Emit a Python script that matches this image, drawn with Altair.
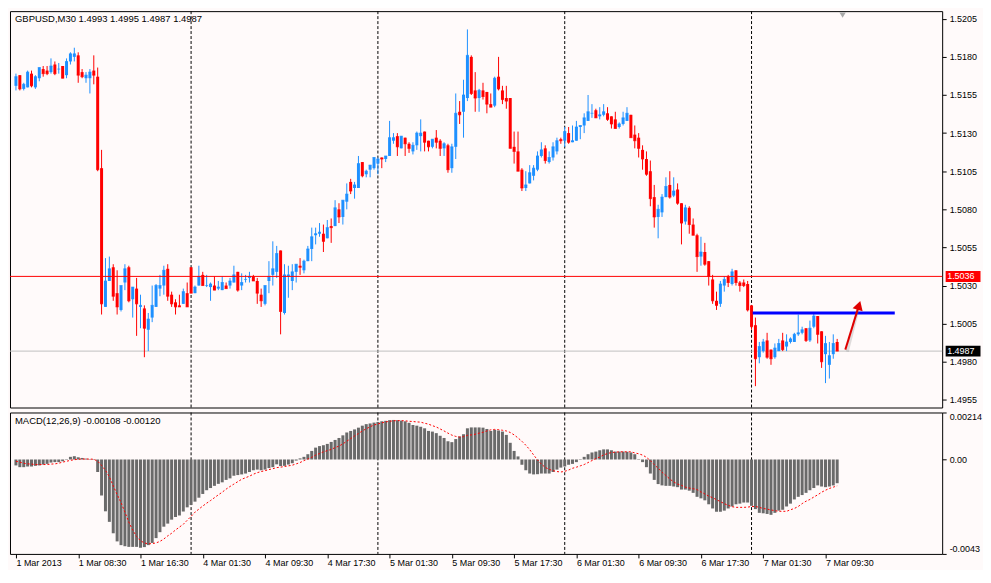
import json
import altair as alt
import pandas as pd

# ---------------- data ----------------
TITLE = "GBPUSD,M30  1.4993 1.4995 1.4987 1.4987"
MACD_TITLE = "MACD(12,26,9) -0.00108 -0.00120"

OPEN = [
 1.5161,1.5168,1.5159,1.5160,1.5169,1.5160,1.5166,1.5172,1.5171,1.5170,
 1.5175,1.5172,1.5174,1.5168,1.5177,1.5180,1.5181,1.5170,1.5166,1.5166,
 1.5171,1.5167,1.5107,1.5016,1.5033,1.5042,1.5025,1.5014,1.5032,1.5042,
 1.5021,1.5028,1.5016,1.5015,1.5001,1.5009,1.5016,1.5028,1.5030,1.5041,
 1.5024,1.5019,1.5017,1.5018,1.5025,1.5042,1.5025,1.5030,1.5037,1.5030,
 1.5029,1.5030,1.5028,1.5027,1.5030,1.5030,1.5032,1.5039,1.5030,1.5034,
 1.5035,1.5036,1.5033,1.5024,1.5018,1.5033,1.5037,1.5039,1.5053,1.5012,
 1.5036,1.5033,1.5039,1.5043,1.5040,1.5046,1.5054,1.5063,1.5064,1.5064,
 1.5061,1.5069,1.5069,1.5080,1.5075,1.5085,1.5098,1.5094,1.5094,1.5111,
 1.5103,1.5106,1.5107,1.5110,1.5114,1.5113,1.5115,1.5125,1.5128,1.5120,
 1.5127,1.5123,1.5118,1.5122,1.5128,1.5131,1.5125,1.5121,1.5127,1.5125,
 1.5120,1.5122,1.5107,1.5121,1.5144,1.5144,1.5153,1.5180,1.5158,1.5153,
 1.5158,1.5157,1.5149,1.5148,1.5167,1.5158,1.5153,1.5153,1.5121,1.5118,
 1.5106,1.5094,1.5097,1.5102,1.5106,1.5115,1.5120,1.5111,1.5114,1.5118,
 1.5126,1.5125,1.5130,1.5124,1.5125,1.5134,1.5135,1.5138,1.5143,1.5145,
 1.5141,1.5142,1.5143,1.5141,1.5139,1.5134,1.5136,1.5138,1.5142,1.5129,
 1.5127,1.5119,1.5113,1.5105,1.5088,1.5075,1.5078,1.5088,1.5096,1.5089,
 1.5093,1.5084,1.5072,1.5081,1.5070,1.5063,1.5049,1.5052,1.5046,1.5034,
 1.5020,1.5018,1.5030,1.5036,1.5031,1.5040,1.5032,1.5032,1.5031,1.5017,
 1.5004,1.4983,1.4987,1.4994,1.4988,1.4983,1.4987,1.4994,1.4990,1.4993,
 1.4993,1.4998,1.4999,1.5002,1.4994,1.5003,1.5010,1.5000,1.4985,1.4978,
 1.4985,1.4993]

HIGH = [
 1.5169,1.5168,1.5163,1.5171,1.5171,1.5168,1.5173,1.5174,1.5174,1.5179,
 1.5177,1.5176,1.5174,1.5179,1.5183,1.5186,1.5183,1.5172,1.5170,1.5172,
 1.5181,1.5173,1.5119,1.5048,1.5049,1.5044,1.5040,1.5030,1.5044,1.5043,
 1.5029,1.5035,1.5024,1.5017,1.5012,1.5030,1.5031,1.5037,1.5043,1.5044,
 1.5026,1.5021,1.5024,1.5028,1.5032,1.5042,1.5030,1.5043,1.5039,1.5037,
 1.5032,1.5036,1.5033,1.5036,1.5032,1.5035,1.5043,1.5039,1.5038,1.5037,
 1.5039,1.5037,1.5035,1.5028,1.5030,1.5046,1.5059,1.5056,1.5053,1.5044,
 1.5043,1.5044,1.5044,1.5048,1.5047,1.5056,1.5068,1.5068,1.5071,1.5070,
 1.5073,1.5074,1.5086,1.5084,1.5086,1.5097,1.5100,1.5098,1.5115,1.5111,
 1.5106,1.5109,1.5114,1.5114,1.5114,1.5115,1.5138,1.5130,1.5130,1.5128,
 1.5127,1.5124,1.5124,1.5131,1.5139,1.5131,1.5125,1.5126,1.5132,1.5126,
 1.5124,1.5123,1.5123,1.5156,1.5151,1.5165,1.5198,1.5181,1.5170,1.5159,
 1.5163,1.5157,1.5156,1.5167,1.5180,1.5161,1.5161,1.5153,1.5131,1.5131,
 1.5107,1.5105,1.5109,1.5109,1.5118,1.5124,1.5122,1.5118,1.5124,1.5127,
 1.5127,1.5134,1.5134,1.5135,1.5138,1.5135,1.5143,1.5155,1.5149,1.5146,
 1.5147,1.5149,1.5147,1.5141,1.5144,1.5137,1.5144,1.5147,1.5142,1.5135,
 1.5130,1.5122,1.5118,1.5112,1.5096,1.5083,1.5090,1.5101,1.5105,1.5101,
 1.5097,1.5084,1.5083,1.5082,1.5074,1.5064,1.5062,1.5058,1.5046,1.5037,
 1.5026,1.5033,1.5036,1.5037,1.5041,1.5040,1.5033,1.5034,1.5033,1.5017,
 1.5009,1.4993,1.4995,1.4999,1.4988,1.4992,1.4995,1.4999,1.4998,1.4996,
 1.4999,1.5011,1.5003,1.5002,1.5007,1.5012,1.5010,1.5000,1.4997,1.4993,
 1.4998,1.4995]

LOW = [
 1.5158,1.5158,1.5158,1.5160,1.5160,1.5159,1.5164,1.5167,1.5168,1.5169,
 1.5168,1.5169,1.5166,1.5166,1.5175,1.5177,1.5163,1.5166,1.5163,1.5156,
 1.5162,1.5105,1.5011,1.5016,1.5033,1.5020,1.5011,1.5013,1.5027,1.5019,
 1.5009,1.4997,1.5002,1.4983,1.4987,1.5006,1.5016,1.5023,1.5024,1.5020,
 1.5016,1.5011,1.5016,1.5018,1.5016,1.5025,1.5025,1.5030,1.5030,1.5029,
 1.5020,1.5027,1.5027,1.5027,1.5028,1.5028,1.5032,1.5026,1.5027,1.5032,
 1.5032,1.5033,1.5018,1.5016,1.5017,1.5025,1.5030,1.5035,1.4998,1.5011,
 1.5022,1.5027,1.5032,1.5037,1.5038,1.5046,1.5046,1.5057,1.5062,1.5052,
 1.5061,1.5058,1.5069,1.5071,1.5070,1.5080,1.5090,1.5087,1.5094,1.5101,
 1.5101,1.5101,1.5106,1.5103,1.5107,1.5111,1.5115,1.5123,1.5115,1.5120,
 1.5115,1.5117,1.5116,1.5119,1.5118,1.5118,1.5118,1.5120,1.5120,1.5115,
 1.5115,1.5104,1.5104,1.5113,1.5136,1.5127,1.5151,1.5155,1.5144,1.5144,
 1.5152,1.5143,1.5147,1.5147,1.5158,1.5149,1.5146,1.5120,1.5110,1.5105,
 1.5092,1.5092,1.5097,1.5099,1.5105,1.5114,1.5110,1.5110,1.5112,1.5116,
 1.5123,1.5121,1.5123,1.5124,1.5125,1.5126,1.5130,1.5138,1.5140,1.5140,
 1.5139,1.5141,1.5138,1.5133,1.5133,1.5133,1.5135,1.5138,1.5127,1.5120,
 1.5114,1.5106,1.5102,1.5082,1.5068,1.5061,1.5075,1.5088,1.5087,1.5088,
 1.5083,1.5057,1.5070,1.5064,1.5063,1.5039,1.5043,1.5043,1.5030,1.5018,
 1.5014,1.5016,1.5026,1.5029,1.5030,1.5030,1.5026,1.5029,1.5013,1.5001,
 1.4964,1.4979,1.4986,1.4982,1.4978,1.4982,1.4987,1.4987,1.4987,1.4992,
 1.4993,1.4997,1.4998,1.4993,1.4993,1.5002,1.4992,1.4976,1.4966,1.4969,
 1.4982,1.4987]

CLOSE = [
 1.5167,1.5159,1.5162,1.5170,1.5161,1.5167,1.5173,1.5169,1.5169,1.5174,
 1.5169,1.5172,1.5166,1.5177,1.5182,1.5182,1.5168,1.5167,1.5168,1.5170,
 1.5168,1.5106,1.5018,1.5033,1.5041,1.5023,1.5016,1.5030,1.5041,1.5020,
 1.5029,1.5018,1.5017,1.5002,1.5008,1.5017,1.5030,1.5030,1.5040,1.5023,
 1.5018,1.5016,1.5016,1.5026,1.5016,1.5025,1.5029,1.5036,1.5030,1.5030,
 1.5031,1.5027,1.5029,1.5032,1.5028,1.5033,1.5037,1.5027,1.5032,1.5034,
 1.5036,1.5033,1.5025,1.5020,1.5030,1.5036,1.5041,1.5051,1.5013,1.5037,
 1.5037,1.5039,1.5044,1.5042,1.5046,1.5054,1.5062,1.5064,1.5065,1.5059,
 1.5068,1.5068,1.5081,1.5075,1.5086,1.5090,1.5092,1.5096,1.5110,1.5102,
 1.5105,1.5109,1.5114,1.5113,1.5113,1.5115,1.5127,1.5127,1.5121,1.5128,
 1.5123,1.5120,1.5122,1.5130,1.5130,1.5124,1.5121,1.5126,1.5124,1.5120,
 1.5123,1.5106,1.5121,1.5143,1.5142,1.5155,1.5181,1.5156,1.5153,1.5158,
 1.5154,1.5149,1.5147,1.5166,1.5159,1.5152,1.5151,1.5120,1.5118,1.5105,
 1.5094,1.5096,1.5104,1.5107,1.5115,1.5119,1.5112,1.5114,1.5121,1.5125,
 1.5125,1.5131,1.5124,1.5125,1.5134,1.5135,1.5140,1.5144,1.5143,1.5140,
 1.5142,1.5144,1.5139,1.5136,1.5133,1.5136,1.5140,1.5143,1.5127,1.5125,
 1.5120,1.5113,1.5103,1.5087,1.5075,1.5080,1.5088,1.5095,1.5088,1.5092,
 1.5084,1.5071,1.5081,1.5070,1.5063,1.5049,1.5052,1.5044,1.5036,1.5020,
 1.5017,1.5031,1.5034,1.5032,1.5039,1.5032,1.5030,1.5030,1.5014,1.5003,
 1.4982,1.4990,1.4993,1.4983,1.4982,1.4989,1.4992,1.4988,1.4993,1.4995,
 1.4998,1.4999,1.5001,1.4994,1.5002,1.5010,1.4998,1.4980,1.4992,1.4984,
 1.4992,1.4987]

MACD_HIST = [
 -0.00027,-0.00035,-0.00035,-0.00032,-0.00032,-0.00029,-0.00027,-0.00023,-0.00020,-0.00014,
 -0.00012,-0.00012,-0.00008,0.00002,0.00012,0.00015,0.00010,0.00007,0.00004,0.00002,
 -0.00002,-0.00057,-0.00164,-0.00236,-0.00284,-0.00336,-0.00373,-0.00390,-0.00395,-0.00398,
 -0.00398,-0.00398,-0.00402,-0.00399,-0.00390,-0.00380,-0.00358,-0.00331,-0.00306,-0.00292,
 -0.00274,-0.00262,-0.00255,-0.00237,-0.00218,-0.00207,-0.00192,-0.00174,-0.00157,-0.00140,
 -0.00130,-0.00120,-0.00111,-0.00104,-0.00093,-0.00086,-0.00074,-0.00071,-0.00068,-0.00064,
 -0.00057,-0.00049,-0.00046,-0.00049,-0.00046,-0.00039,-0.00035,-0.00022,-0.00030,-0.00029,
 -0.00023,-0.00017,-0.00005,0.00005,0.00012,0.00024,0.00039,0.00054,0.00061,0.00065,
 0.00071,0.00080,0.00089,0.00098,0.00110,0.00123,0.00130,0.00137,0.00145,0.00154,
 0.00161,0.00164,0.00168,0.00171,0.00174,0.00176,0.00179,0.00180,0.00179,0.00177,
 0.00174,0.00167,0.00157,0.00154,0.00149,0.00142,0.00130,0.00127,0.00120,0.00108,
 0.00098,0.00083,0.00079,0.00093,0.00105,0.00115,0.00142,0.00146,0.00146,0.00146,
 0.00145,0.00139,0.00130,0.00135,0.00132,0.00127,0.00112,0.00076,0.00039,0.00014,
 -0.00024,-0.00049,-0.00064,-0.00068,-0.00067,-0.00064,-0.00064,-0.00064,-0.00057,-0.00046,
 -0.00037,-0.00032,-0.00024,-0.00020,-0.00012,0.00002,0.00012,0.00024,0.00032,0.00036,
 0.00042,0.00046,0.00046,0.00042,0.00036,0.00036,0.00036,0.00035,0.00032,0.00024,
 0.00002,-0.00012,-0.00035,-0.00064,-0.00093,-0.00112,-0.00118,-0.00120,-0.00120,-0.00123,
 -0.00126,-0.00137,-0.00137,-0.00142,-0.00152,-0.00170,-0.00177,-0.00186,-0.00204,-0.00223,
 -0.00238,-0.00238,-0.00233,-0.00223,-0.00214,-0.00204,-0.00201,-0.00196,-0.00196,-0.00211,
 -0.00226,-0.00243,-0.00245,-0.00248,-0.00252,-0.00243,-0.00233,-0.00229,-0.00214,-0.00201,
 -0.00182,-0.00170,-0.00162,-0.00152,-0.00140,-0.00130,-0.00118,-0.00123,-0.00126,-0.00123,
 -0.00118,-0.00108]

MACD_SIGNAL = [
 -0.00008,-0.00012,-0.00017,-0.00020,-0.00021,-0.00023,-0.00023,-0.00023,-0.00023,-0.00021,
 -0.00020,-0.00017,-0.00012,-0.00008,-0.00004,-0.00001,0.00001,0.00002,0.00002,0.00002,
 0.00001,-0.00008,-0.00027,-0.00049,-0.00079,-0.00120,-0.00160,-0.00196,-0.00240,-0.00285,
 -0.00321,-0.00351,-0.00370,-0.00380,-0.00384,-0.00383,-0.00380,-0.00373,-0.00362,-0.00348,
 -0.00336,-0.00321,-0.00308,-0.00295,-0.00277,-0.00259,-0.00240,-0.00226,-0.00212,-0.00199,
 -0.00187,-0.00174,-0.00161,-0.00149,-0.00135,-0.00123,-0.00112,-0.00101,-0.00090,-0.00083,
 -0.00076,-0.00067,-0.00060,-0.00055,-0.00051,-0.00046,-0.00042,-0.00037,-0.00035,-0.00032,
 -0.00029,-0.00026,-0.00020,-0.00014,-0.00005,0.00002,0.00010,0.00020,0.00027,0.00035,
 0.00040,0.00046,0.00054,0.00061,0.00071,0.00083,0.00095,0.00107,0.00118,0.00130,
 0.00140,0.00149,0.00157,0.00162,0.00167,0.00171,0.00174,0.00176,0.00177,0.00177,
 0.00176,0.00174,0.00173,0.00171,0.00170,0.00165,0.00161,0.00154,0.00148,0.00139,
 0.00130,0.00120,0.00111,0.00105,0.00102,0.00104,0.00110,0.00112,0.00115,0.00120,
 0.00124,0.00130,0.00135,0.00137,0.00136,0.00133,0.00130,0.00123,0.00112,0.00098,
 0.00083,0.00065,0.00045,0.00021,-0.00002,-0.00021,-0.00036,-0.00045,-0.00051,-0.00055,
 -0.00057,-0.00054,-0.00048,-0.00040,-0.00035,-0.00029,-0.00023,-0.00014,-0.00005,0.00004,
 0.00011,0.00021,0.00027,0.00032,0.00033,0.00035,0.00035,0.00035,0.00035,0.00030,
 0.00026,0.00020,0.00010,-0.00005,-0.00023,-0.00040,-0.00058,-0.00073,-0.00089,-0.00102,
 -0.00112,-0.00118,-0.00126,-0.00130,-0.00133,-0.00137,-0.00148,-0.00157,-0.00167,-0.00174,
 -0.00183,-0.00192,-0.00201,-0.00209,-0.00215,-0.00218,-0.00218,-0.00218,-0.00217,-0.00214,
 -0.00214,-0.00218,-0.00223,-0.00226,-0.00230,-0.00233,-0.00236,-0.00236,-0.00236,-0.00229,
 -0.00223,-0.00214,-0.00201,-0.00190,-0.00182,-0.00171,-0.00161,-0.00149,-0.00140,-0.00132,
 -0.00126,-0.00120]

TIME_TICK_BARS = [0, 16, 32, 48, 64, 80, 96, 112, 128, 144, 160, 176, 192, 208]
TIME_TICK_LABELS = ["1 Mar 2013", "1 Mar 08:30", "1 Mar 16:30", "4 Mar 01:30",
                    "4 Mar 09:30", "4 Mar 17:30", "5 Mar 01:30", "5 Mar 09:30",
                    "5 Mar 17:30", "6 Mar 01:30", "6 Mar 09:30", "6 Mar 17:30",
                    "7 Mar 01:30", "7 Mar 09:30"]
PRICE_TICKS = [1.4955, 1.4980, 1.5005, 1.5030, 1.5055, 1.5080,
               1.5105, 1.5130, 1.5155, 1.5180, 1.5205]
MACD_TICKS = [0.00214, 0.0, -0.0043]
MACD_TICK_LABELS = ["0.00214", "0.00", "-0.0043"]
DAY_START_BARS = [45, 93, 141, 189]

RED_LEVEL = 1.5036
BID_LEVEL = 1.4987
BLUE_LEVEL = 1.5012
BLUE_FROM_BAR, BLUE_TO_BAR = 189.3, 225.8
ARROW_TAIL = (213.1, 1.4988)
ARROW_HEAD = (216.6, 1.5017)
SHIFT_MARK_BAR = 212.4

# ---------------- layout ----------------
W, H1, H2 = 936, 398, 142
FONT = "Liberation Sans"
XDOM = [-0.25, 236.7]
xscale = alt.Scale(domain=XDOM, nice=False, zero=False)
yscale = alt.Scale(domain=[1.4950, 1.5210], nice=False, zero=False)
mscale = alt.Scale(domain=[-0.0043, 0.00214], nice=False, zero=False)

n = len(OPEN)
bars = pd.DataFrame({"bar": list(range(n)), "open": OPEN, "high": HIGH,
                     "low": LOW, "close": CLOSE})
macd = pd.DataFrame({"bar": list(range(n)), "hist": MACD_HIST, "signal": MACD_SIGNAL})
days = pd.DataFrame({"bar": DAY_START_BARS})

price_axis = alt.Axis(orient="right", values=PRICE_TICKS, format=".4f",
                      tickSize=4, labelPadding=3, title=None, labelOverlap=False)
time_label_expr = "%s[indexof(%s, datum.value)]" % (json.dumps(TIME_TICK_LABELS),
                                                     json.dumps(TIME_TICK_BARS))
macd_label_expr = "%s[indexof(%s, datum.value)]" % (json.dumps(MACD_TICK_LABELS),
                                                     json.dumps(MACD_TICKS))
time_axis = alt.Axis(orient="bottom", values=TIME_TICK_BARS, labelExpr=time_label_expr,
                     labelAlign="left", labelBaseline="top", labelPadding=1,
                     tickSize=4, labelOverlap=False, labelFlush=False, title=None)
macd_axis = alt.Axis(orient="right", values=MACD_TICKS, labelExpr=macd_label_expr,
                     labelFlush=True, tickSize=4, labelPadding=3, title=None,
                     labelOverlap=False)


def XM(field):  # x in the price panel (no axis)
    return alt.X(field, scale=xscale, axis=None, title=None)


def YM(field):  # y in the price panel
    return alt.Y(field, scale=yscale, axis=price_axis, title=None)


def XB(field):  # x in the MACD panel (time axis)
    return alt.X(field, scale=xscale, axis=time_axis, title=None)


def YB(field):  # y in the MACD panel
    return alt.Y(field, scale=mscale, axis=macd_axis, title=None)


color = alt.Color("dir:N", scale=alt.Scale(domain=["up", "down"],
                                          range=["#1E90FF", "#FF0000"]), legend=None)
base = alt.Chart(bars).transform_calculate(
    dir="datum.close >= datum.open ? 'up' : 'down'")

seps_main = alt.Chart(days).mark_rule(color="#000000", strokeWidth=1,
                                      strokeDash=[3, 2]).encode(x=XM("bar:Q"))

wicks = base.mark_rule(strokeWidth=1).encode(
    x=XM("bar:Q"), y=YM("low:Q"), y2="high:Q", color=color)
bodies = base.mark_bar(size=3).encode(
    x=XM("bar:Q"), y=YM("open:Q"), y2="close:Q", color=color)
doji = base.mark_tick(orient="horizontal", size=3, thickness=1).encode(
    x=XM("bar:Q"), y=YM("close:Q"), color=color)

red_line = alt.Chart(pd.DataFrame({"price": [RED_LEVEL]})).mark_rule(
    color="#FF0000", strokeWidth=1).encode(y=YM("price:Q"))
bid_line = alt.Chart(pd.DataFrame({"price": [BID_LEVEL]})).mark_rule(
    color="#C0C0C0", strokeWidth=1).encode(y=YM("price:Q"))
blue_line = alt.Chart(pd.DataFrame({"x0": [BLUE_FROM_BAR], "x1": [BLUE_TO_BAR],
                                    "price": [BLUE_LEVEL]})).mark_rule(
    color="#0000FF", strokeWidth=3).encode(x=XM("x0:Q"), x2="x1:Q", y=YM("price:Q"))

arrow_df = pd.DataFrame({"x0": [ARROW_TAIL[0]], "y0": [ARROW_TAIL[1]],
                         "x1": [ARROW_HEAD[0]], "y1": [ARROW_HEAD[1]]})
arrow_shadow = alt.Chart(arrow_df).mark_rule(
    color="#808080", strokeWidth=3, opacity=0.25, xOffset=2, yOffset=2).encode(
    x=XM("x0:Q"), x2="x1:Q", y=YM("y0:Q"), y2="y1:Q")
arrow_shaft = alt.Chart(arrow_df).mark_rule(color="#E00000", strokeWidth=2).encode(
    x=XM("x0:Q"), x2="x1:Q", y=YM("y0:Q"), y2="y1:Q")
arrow_head = alt.Chart(arrow_df).mark_point(
    shape="triangle-up", filled=True, size=110, angle=17, color="#E00000",
    opacity=1).encode(x=XM("x1:Q"), y=YM("y1:Q"))

shift_mark = alt.Chart(pd.DataFrame({"bar": [SHIFT_MARK_BAR]})).mark_point(
    shape="triangle-down", filled=True, size=40, color="#A8A8A8", opacity=1).encode(
    x=XM("bar:Q"), y=alt.value(4))

tags = pd.DataFrame({"price": [RED_LEVEL, BID_LEVEL],
                     "label": [f"{RED_LEVEL:.4f}", f"{BID_LEVEL:.4f}"],
                     "bg": ["#FF0000", "#000000"]})
tag_box = alt.Chart(tags).mark_tick(orient="horizontal", size=35, thickness=11,
                                    opacity=1).encode(
    x=alt.value(W + 21), y=YM("price:Q"),
    color=alt.Color("bg:N", scale=None, legend=None))
tag_text = alt.Chart(tags).mark_text(align="left", baseline="middle", color="#FFFFFF",
                                     font=FONT, fontSize=9).encode(
    x=alt.value(W + 5), y=YM("price:Q"), text="label:N")

title_text = alt.Chart(pd.DataFrame({"t": [TITLE]})).mark_text(
    align="left", baseline="middle", font=FONT, fontSize=9.5, color="#000000").encode(
    x=alt.value(5), y=alt.value(8), text="t:N")

main = alt.layer(seps_main, bid_line, wicks, bodies, doji, red_line, blue_line,
                 arrow_shadow, arrow_shaft, arrow_head, shift_mark, tag_box, tag_text,
                 title_text).properties(width=W, height=H1)

# ---------------- MACD panel ----------------
hist = alt.Chart(macd).mark_bar(size=3, color="#6A6A6A").encode(
    x=XB("bar:Q"), y=YB("hist:Q"), y2=alt.datum(0))
signal = alt.Chart(macd).mark_line(color="#FF0000", strokeWidth=1,
                                   strokeDash=[2, 2]).encode(
    x=XB("bar:Q"), y=YB("signal:Q"))
seps_macd = alt.Chart(days).mark_rule(color="#000000", strokeWidth=1,
                                      strokeDash=[3, 2]).encode(x=XB("bar:Q"))
macd_text = alt.Chart(pd.DataFrame({"t": [MACD_TITLE]})).mark_text(
    align="left", baseline="middle", font=FONT, fontSize=9.5, color="#000000").encode(
    x=alt.value(5), y=alt.value(9), text="t:N")

macd_panel = alt.layer(seps_macd, hist, signal, macd_text).properties(width=W, height=H2)

chart = alt.vconcat(main, macd_panel, spacing=3).properties(
    padding={"left": 1, "top": 1, "right": 0, "bottom": 0},
    background="#FFFAFA"
).configure_view(
    stroke="#000000", strokeWidth=1, fill="#FFFAFA"
).configure_axis(
    labelFont=FONT, labelFontSize=9, labelColor="#000000", tickColor="#000000",
    domain=False, grid=False
)

chart.save("out.html", embed_options={"renderer": "svg", "actions": False})
